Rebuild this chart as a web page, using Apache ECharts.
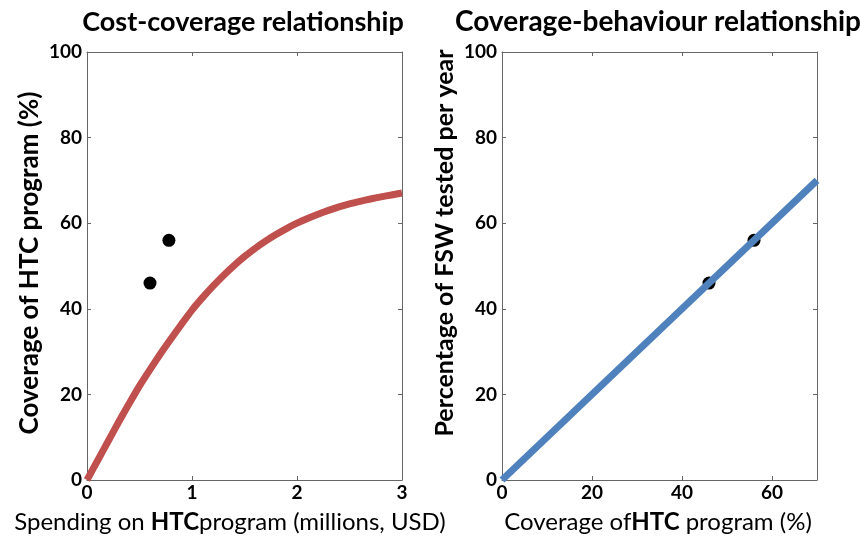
<!DOCTYPE html>
<html>
<head>
<meta charset="utf-8">
<script src="https://cdn.jsdelivr.net/npm/echarts@6/dist/echarts.min.js"></script>
<style>
html,body{margin:0;padding:0;background:#fff;}
#chart{width:860px;height:540px;}
</style>
</head>
<body>
<div id="chart"></div>
<script>
// Left panel: cost-coverage curve (spending in millions USD -> coverage %)
const spending = [0,0.1,0.2,0.3,0.4,0.5,0.6,0.7,0.8,0.9,1.0,1.1,1.2,1.3,1.4,1.5,1.6,1.7,1.8,1.9,2.0,2.1,2.2,2.3,2.4,2.5,2.6,2.7,2.8,2.9,3.0];
const coverageCurve = [0,4.5,9.0,13.5,17.8,22.0,25.8,29.5,33.0,36.4,39.7,42.6,45.3,47.8,50.1,52.2,54.1,55.8,57.35,58.75,60.0,61.1,62.1,63.0,63.8,64.5,65.1,65.65,66.15,66.6,67.05];
const spendingPoints = [0.6, 0.78];
const coveragePoints = [46, 56];
// Right panel: coverage-behaviour line
const coverageLineX = [0, 70];
const testedLineY = [0, 70];
const coverageObsX = [46, 56];
const testedObsY = [46, 56];
// ticks
const leftXTicks = {min:0, max:3, interval:1};
const rightXTicks = {min:0, max:70, interval:20};
const yTicks = {min:0, max:100, interval:20};

const FONT = 'Lato';
const axisColor = '#666';

function mkX(grid, t, pos, showLabels){
  return {
    type:'value', gridIndex:grid, position:pos, min:t.min, max:t.max, interval:t.interval,
    axisLine:{show:true, onZero:false, lineStyle:{color:axisColor, width:1}},
    axisTick:{show:true, inside:true, length:4, lineStyle:{color:axisColor}},
    axisLabel:{show:showLabels, color:'#000', fontFamily:FONT, fontWeight:'bold', fontSize:19, margin:3, showMaxLabel: t.max % t.interval === 0},
    splitLine:{show:false}
  };
}
function mkY(grid, t, pos, showLabels){
  return {
    type:'value', gridIndex:grid, position:pos, min:t.min, max:t.max, interval:t.interval,
    axisLine:{show:true, onZero:false, lineStyle:{color:axisColor, width:1}},
    axisTick:{show:true, inside:true, length:4, lineStyle:{color:axisColor}},
    axisLabel:{show:showLabels, color:'#000', fontFamily:FONT, fontWeight:'bold', fontSize:19, margin:5},
    splitLine:{show:false}
  };
}

const chart = echarts.init(document.getElementById('chart'), null, {renderer:'canvas'});
const option = {
  animation:false,
  backgroundColor:'#fff',
  grid:[
    {left:87, right:458, top:52, bottom:60},
    {left:502, right:43, top:52, bottom:60}
  ],
  xAxis:[
    mkX(0, leftXTicks, 'bottom', true),
    mkX(1, rightXTicks, 'bottom', true),
    mkX(0, leftXTicks, 'top', false),
    mkX(1, rightXTicks, 'top', false)
  ],
  yAxis:[
    mkY(0, yTicks, 'left', true),
    mkY(1, yTicks, 'left', true),
    mkY(0, yTicks, 'right', false),
    mkY(1, yTicks, 'right', false)
  ],
  series:[
    {type:'line', xAxisIndex:0, yAxisIndex:0, smooth:0.2, showSymbol:false,
     lineStyle:{color:'#c0504d', width:7, join:'round'}, itemStyle:{color:'#c0504d'},
     data: spending.map((x,i)=>[x, coverageCurve[i]])},
    {type:'scatter', xAxisIndex:0, yAxisIndex:0, symbolSize:13, itemStyle:{color:'#000', opacity:1},
     data: spendingPoints.map((x,i)=>[x, coveragePoints[i]])},
    {type:'line', xAxisIndex:1, yAxisIndex:1, showSymbol:false,
     lineStyle:{color:'#4f81bd', width:7}, itemStyle:{color:'#4f81bd'},
     data: coverageLineX.map((x,i)=>[x, testedLineY[i]])},
    {type:'scatter', xAxisIndex:1, yAxisIndex:1, symbolSize:13, itemStyle:{color:'#000', opacity:1},
     data: coverageObsX.map((x,i)=>[x, testedObsY[i]])}
  ],
  graphic:[
    {type:'text', x:243, y:22, style:{text:'Cost-coverage relationship', fontFamily:FONT, fontWeight:'bold', fontSize:27, fill:'#000', textAlign:'center', textVerticalAlign:'middle'}},
    {type:'text', x:658, y:22, style:{text:'Coverage-behaviour relationship', fontFamily:FONT, fontWeight:'bold', fontSize:28, fill:'#000', textAlign:'center', textVerticalAlign:'middle'}},
    {type:'text', x:230, y:522, style:{
      text:'{n|Spending on }{b|HTC}{n|program (millions, USD)}',
      textAlign:'center', textVerticalAlign:'middle',
      rich:{n:{fontFamily:FONT, fontSize:24, fill:'#000', fontWeight:'normal'}, b:{fontFamily:FONT, fontSize:24, fill:'#000', fontWeight:'bold'}}}},
    {type:'text', x:658, y:522, style:{
      text:'{n|Coverage of}{b|HTC}{n| program (%)}',
      textAlign:'center', textVerticalAlign:'middle',
      rich:{n:{fontFamily:FONT, fontSize:24, fill:'#000', fontWeight:'normal'}, b:{fontFamily:FONT, fontSize:24, fill:'#000', fontWeight:'bold'}}}},
    {type:'text', x:30, y:263, rotation:Math.PI/2, style:{
      text:'Coverage of HTC program (%)', fontFamily:FONT, fontWeight:'bold', fontSize:26, fill:'#000',
      textAlign:'center', textVerticalAlign:'middle'}},
    {type:'text', x:445, y:243, rotation:Math.PI/2, style:{
      text:'Percentage of FSW tested per year', fontFamily:FONT, fontWeight:'bold', fontSize:25, fill:'#000',
      textAlign:'center', textVerticalAlign:'middle'}}
  ]
};
chart.setOption(option);
</script>
</body>
</html>
